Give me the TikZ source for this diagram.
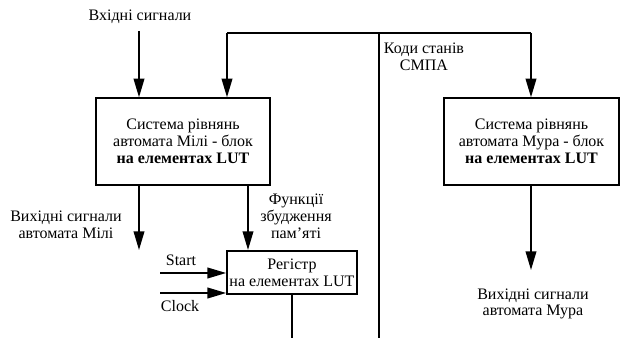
\documentclass[tikz,border=0pt]{standalone}
\usepackage{fontspec}
\setmainfont{Liberation Serif}
\usetikzlibrary{positioning,arrows.meta,calc}
\tikzset{
  block/.style={rectangle,draw=black,line width=1.3pt,align=center,inner sep=0pt,font=\fontsize{12}{12.6}\selectfont},
  lbl/.style={align=center,inner sep=0pt,font=\fontsize{12}{12.6}\selectfont},
  edge/.style={-{Triangle[length=14pt,width=8pt]},line width=1.3pt},
  wire/.style={line width=1.3pt}
}
\begin{document}
\begin{tikzpicture}[x=0.75pt,y=-0.75pt]
  \useasboundingbox (0,0) rectangle (622,338);
  % blocks
  \node[block,minimum width=131pt,minimum height=65pt] (mealy) at (183,141.5)
    {Система рівнянь\\автомата Мілі - блок\\\textbf{на елементах LUT}};
  \node[block,minimum width=131pt,minimum height=65pt] (moore) at (531.5,141.5)
    {Система рівнянь\\автомата Мура - блок\\\textbf{на елементах LUT}};
  \node[block,minimum width=97.5pt,minimum height=32.5pt] (reg) at (292,272.5)
    {Регістр\\на елементах LUT};

  % labels
  \node[lbl] (inLbl) at (140,17) {Вхідні сигнали};
  \node[lbl] (codeLbl) at (424,56.5) {Коди станів\\СМПА};
  \node[lbl] (mealyLbl) at (66,225) {Вихідні сигнали\\автомата Мілі};
  \node[lbl] (excLbl) at (296,216.5) {Функції\\збудження\\пам'яті};
  \node[lbl] (mooreLbl) at (533,304) {Вихідні сигнали\\автомата Мура};
  \node[lbl] (startLbl) at (181,260) {Start};
  \node[lbl] (clockLbl) at (180,306) {Clock};

  % free ends
  \coordinate (inTop) at (139,31);
  \coordinate (fbTop) at (379,33);
  \coordinate (fbL) at (227,33);
  \coordinate (fbR) at (531,33);
  \coordinate (fbBot) at (379,338.4);
  \coordinate (excX) at (248,200);
  \coordinate (mealyOut) at (139,250);
  \coordinate (mooreOut) at (531,270);
  \coordinate (startIn) at (160,273);
  \coordinate (clockIn) at (160,293);

  % connectors
  \draw[edge] (inTop) -- (inTop |- mealy.north);
  \draw[wire] (reg.south) -- (reg.south |- fbBot);
  \draw[wire,black!25] (reg.south |- fbBot) -- (fbBot);
  \draw[wire] (fbBot) -- (fbTop);
  \draw[wire] (fbL) -- (fbR);
  \draw[edge] (fbL) -- (fbL |- mealy.north);
  \draw[edge] (fbR) -- (fbR |- moore.north);
  \draw[edge] (mealyOut |- mealy.south) -- (mealyOut);
  \draw[edge] (excX |- mealy.south) -- (excX |- reg.north);
  \draw[edge] (mooreOut |- moore.south) -- (mooreOut);
  \draw[edge] (startIn) -- (startIn -| reg.west);
  \draw[edge] (clockIn) -- (clockIn -| reg.west);
\end{tikzpicture}
\end{document}
